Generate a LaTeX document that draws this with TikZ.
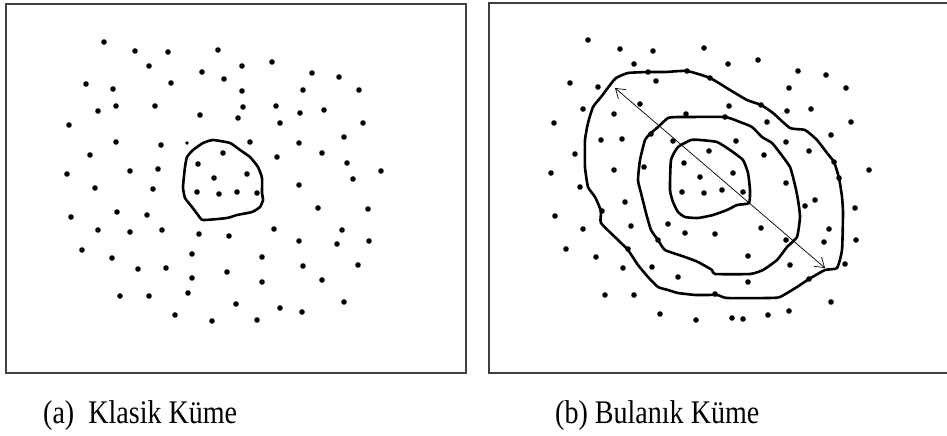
\documentclass[tikz,border=0pt]{standalone}
\usepackage{fontspec}
\setmainfont{Liberation Serif}
\usetikzlibrary{arrows.meta}
\tikzset{
  frame/.style={draw=black!75, line width=1.3pt},
  contour/.style={draw=black, line width=2.6pt, line join=round},
  dot/.style={fill=black},
  caption/.style={anchor=base west, inner sep=0pt, font=\fontsize{33}{38}\selectfont}
}
\begin{document}
\begin{tikzpicture}[x=1pt,y=-1pt]
\useasboundingbox (0,0) rectangle (947,436);
% frames
\draw[frame] (6,4) rectangle (466,373);
\draw[frame] (947,3) -- (489,3) -- (489,373) -- (947,373);
% left dots
\foreach \p in {(104,42),(135,51),(168,52),(218,50),(149,66),(202,72),(224,79),(86,84),(113,89),(171,83),(116,106),(98,111),(155,106),(200,115),(238,118),(69,125),(116,142),(161,145),(90,155),(223,153),(198,164),(67,174),(130,171),(158,169),(214,178),(95,188),(153,189),
(242,66),(272,62),(312,73),(339,77),(242,91),(303,90),(359,90),(243,107),(276,106),(300,113),(324,110),(280,123),(363,123),(344,137),(250,142),(299,143),(277,157),(322,153),(347,163),(381,171),(247,174),(353,179),(299,185),
(197,192),(219,194),(237,192),(257,193),(71,217),(117,212),(147,215),(98,230),(130,232),(162,230),(199,234),(229,236),(82,250),(112,258),(192,254),(138,269),(166,268),(227,272),(192,278),(120,296),(149,296),(188,293),(236,304),(175,315),(212,321),
(318,208),(368,209),(274,229),(342,230),(299,241),(337,244),(369,241),(262,257),(303,266),(358,265),(322,280),(262,282),(280,308),(302,312),(344,302),(257,320)}
  \fill[dot] \p circle (2.8);
\fill[dot] (187,143) circle (1.8);
% left contour
\draw[contour] plot[smooth cycle, tension=0.3] coordinates {(187,157) (193,150) (203,143) (213,140) (230,143) (240,150) (250,157) (258,167) (262,178) (262,193) (263,200) (260,207) (252,212) (237,215) (227,218) (203,220) (198,215) (192,207) (185,198) (183,187) (185,167)};
% right dots
\foreach \p in {(588,40),(620,49),(653,51),(634,64),(648,72),(687,71),(570,83),(598,87),(656,81),(583,109),(614,114),(640,104),(686,114),(554,123),(601,140),(622,139),(651,134),(673,141),(575,154),(684,163),(551,173),(614,170),(644,167),(580,187),
(704,48),(728,64),(758,60),(798,71),(826,75),(789,88),(846,88),(710,78),(729,106),(761,105),(787,111),(811,109),(851,122),(767,122),(831,135),(725,117),(736,141),(786,142),(809,151),(709,151),(764,155),(834,162),(869,170),(733,173),(700,177),(786,183),(839,178),
(682,192),(625,202),(555,216),(602,211),(583,229),(631,226),(668,224),(685,233),(658,240),(566,249),(628,249),(596,257),(652,267),(623,268),(678,277),(605,295),(634,295),(660,314),(696,320),
(704,193),(722,190),(743,192),(815,200),(805,206),(855,208),(761,228),(715,234),(829,229),(824,242),(856,240),(786,240),(748,256),(790,265),(845,264),(748,282),(715,294),(809,279),(831,302),(732,318),(743,319),(768,315),(789,311)}
  \fill[dot] \p circle (2.8);
% right contours
\draw[contour] plot[smooth cycle, tension=0.3] coordinates {(648,72) (665,72) (687,71) (710,78) (730,90) (747,100) (761,105) (773,113) (790,128) (805,130) (817,140) (827,153) (834,162) (839,178) (842,197) (843,213) (842,250) (837,268) (825,270) (809,279) (797,287) (780,297) (768,298) (727,298) (717,295) (696,295) (678,293) (668,290) (658,287) (648,277) (638,265) (628,250) (618,240) (601,223) (601,211) (595,197) (588,187) (585,167) (585,140) (588,123) (593,107) (601,97) (610,85) (616,78) (628,73)};
\draw[contour] plot[smooth cycle, tension=0.3] coordinates {(678,117) (690,117) (725,117) (740,122) (752,127) (762,137) (772,143) (780,153) (790,167) (795,185) (798,200) (800,217) (797,237) (787,247) (777,260) (763,270) (750,274) (715,274) (712,270) (698,262) (685,257) (665,250) (658,240) (651,230) (646,213) (641,193) (638,180) (640,160) (645,140) (651,133) (658,127) (668,118)};
\draw[contour] plot[smooth cycle, tension=0.3] coordinates {(691,140) (700,140) (717,142) (730,150) (743,160) (748,173) (750,190) (749,203) (737,205) (727,210) (713,215) (698,218) (685,217) (678,212) (673,202) (670,190) (671,160) (678,147)};
% diameter arrow
\coordinate (ua) at (615,88);
\coordinate (ub) at (825,268);
\draw[line width=0.7pt, {Straight Barb[length=9pt,width=12pt]}-{Straight Barb[length=9pt,width=12pt]}] (ua) -- (ub);
% captions
\node[caption] (capa) at (43,423) {\scalebox{0.85}[1]{(a)\ \ Klasik Küme}};
\node[caption] (capb) at (555,423) {\scalebox{0.85}[1]{(b) Bulanık Küme}};
\end{tikzpicture}
\end{document}
